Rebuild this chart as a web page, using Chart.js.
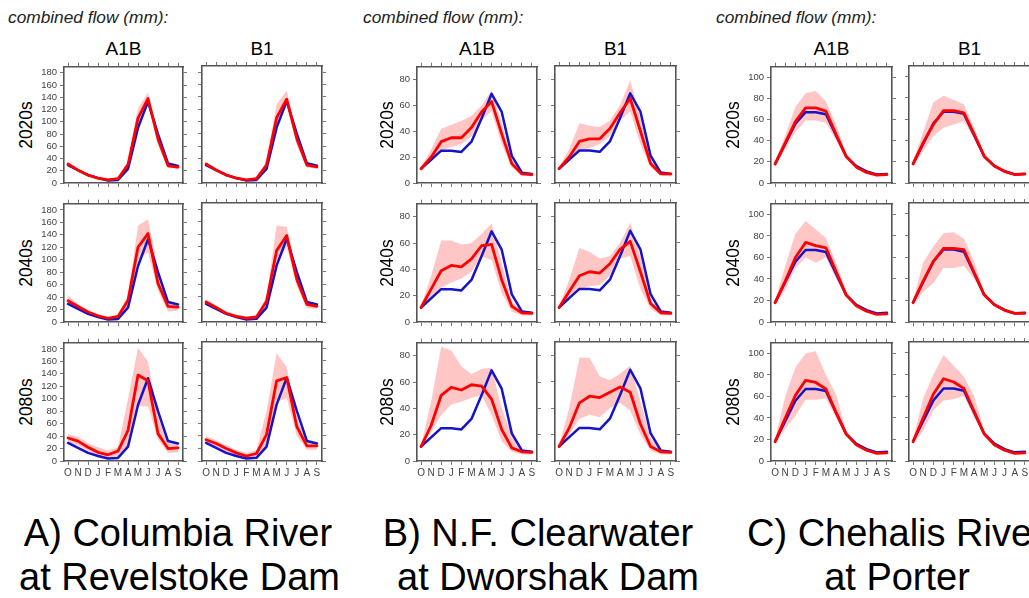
<!DOCTYPE html>
<html><head><meta charset="utf-8"><title>combined flow</title>
<script src="https://cdn.jsdelivr.net/npm/chart.js@4.4.1/dist/chart.umd.min.js"></script>
<style>
html,body{margin:0;padding:0;background:#fff}
body{position:relative;width:1029px;height:598px;overflow:hidden;font-family:'Liberation Sans',Arial,Helvetica,sans-serif}
.t{position:absolute;white-space:nowrap;line-height:1.15;color:#000}
.cf{font-size:17.3px;font-style:italic;color:#222;transform:translateY(-50%)}
.ct{font-size:19px;transform:translate(-50%,-50%)}
.rl{font-size:17.5px;transform:translate(-50%,-50%) rotate(-90deg)}
.big{font-size:38px;transform:translate(-50%,-50%)}
.bigl{font-size:38px;transform:translateY(-50%)}
canvas{position:absolute}
</style></head><body>
<script>
const MONTHS=['O','N','D','J','F','M','A','M','J','J','A','S'];
const PERIODS=['2020s','2040s','2080s'];
const SCENARIOS=['A1B','B1'];

// A) Columbia River at Revelstoke Dam
const cr_hist=[29,21,13,8,4,5,23,90,133,80,32,28];
const cr_a1b_20_mid=[31,21,13,8,5,7,30,106,138,72,28,26];
const cr_a1b_20_hi=[33,23,15,10,7,9,35,122,148,82,32,30];
const cr_a1b_20_lo=[29,19,11,6,3,5,25,92,128,62,25,23];
const cr_b1_20_mid=[31,21,13,8,5,7,29,106,136,72,29,26];
const cr_b1_20_hi=[34,23,15,10,7,9,35,128,150,82,33,30];
const cr_b1_20_lo=[28,19,11,6,3,5,24,92,126,62,25,23];
const cr_a1b_40_mid=[34,25,16,10,6,9,35,120,142,62,25,24];
const cr_a1b_40_hi=[43,29,19,12,8,11,42,155,165,85,32,29];
const cr_a1b_40_lo=[30,22,13,8,4,6,25,100,112,50,17,18];
const cr_b1_40_mid=[32,23,14,9,6,8,33,114,138,68,28,25];
const cr_b1_40_hi=[36,26,16,11,8,10,40,154,152,78,32,28];
const cr_b1_40_lo=[29,20,12,7,4,6,26,92,120,58,22,21];
const cr_a1b_80_mid=[37,32,22,14,10,16,49,138,129,44,20,21];
const cr_a1b_80_hi=[43,39,29,22,17,22,100,182,160,72,30,30];
const cr_a1b_80_lo=[30,25,16,9,5,7,20,88,88,35,13,14];
const cr_b1_80_mid=[34,28,20,13,8,12,42,128,133,55,24,24];
const cr_b1_80_hi=[40,33,25,18,13,17,80,172,150,68,30,29];
const cr_b1_80_lo=[28,23,15,9,5,7,20,95,100,40,18,18];

// B) N.F. Clearwater at Dworshak Dam
const nf_hist=[11,18,25,25,24,32,50,69,55,21,8,7];
const nf_a1b_20_mid=[11,20,32,35,35,43,55,63,38,15,7,6.5];
const nf_a1b_20_hi=[12,26,42,45,48,52,60,72,46,18,8,7];
const nf_a1b_20_lo=[10,17,25,28,30,36,48,56,30,12,6,5];
const nf_b1_20_mid=[11,20,32,34,34,42,54,65,40,15,7,7];
const nf_b1_20_hi=[12,26,46,44,43,48,60,79,50,18,8,7];
const nf_b1_20_lo=[10,17,25,27,30,36,48,55,30,12,6,5];
const nf_a1b_40_mid=[11,25,39,43,42,48,58,59,32,12,7,6.5];
const nf_a1b_40_hi=[12,35,62,62,59,60,67,75,45,16,8,7];
const nf_a1b_40_lo=[10,18,26,30,33,38,50,47,22,8,5,5];
const nf_b1_40_mid=[11,23,35,38,37,44,55,61,38,14,7,6.5];
const nf_b1_40_hi=[12,32,56,53,48,50,60,75,50,17,8,7];
const nf_b1_40_lo=[10,17,25,27,28,35,48,50,25,10,5,5];
const nf_a1b_80_mid=[11,27,50,56,54,58,57,47,24,10,7,6.5];
const nf_a1b_80_hi=[12,45,87,84,72,66,70,71,40,20,8,7];
const nf_a1b_80_lo=[10,22,35,43,45,48,50,35,15,7,5,5];
const nf_b1_80_mid=[11,25,44,49,48,52,56,52,28,11,7,6.5];
const nf_b1_80_hi=[12,40,78,78,64,61,66,72,45,18,8,7];
const nf_b1_80_lo=[10,20,32,35,33,40,44,38,20,8,5,5];

// C) Chehalis River at Porter
const ch_hist=[18,37,56,67,67,65,45,25,16,11,8,8.5];
const ch_a1b_20_mid=[18,38,58,71,71,68,46,25,15,10,7.5,8];
const ch_a1b_20_hi=[20,45,72,85,87,77,55,28,17,11,9,9];
const ch_a1b_20_lo=[15,32,48,59,59,57,40,23,13,9,7,7];
const ch_b1_20_mid=[18,38,55,68,68,66,46,25,16,11,8,8.5];
const ch_b1_20_hi=[20,48,76,82,78,74,52,28,17,12,9,9];
const ch_b1_20_lo=[15,30,44,52,55,58,42,23,14,9,7,7];
const ch_a1b_40_mid=[18,38,60,74,71,69,47,25,15,10,7,7.5];
const ch_a1b_40_hi=[20,52,82,94,86,78,55,28,17,11,8.5,9];
const ch_a1b_40_lo=[15,30,50,60,55,60,40,23,13,9,6.5,7];
const ch_b1_40_mid=[18,38,56,68,68,67,46,25,16,11,8,8];
const ch_b1_40_hi=[20,55,70,82,83,77,56,28,17,12,9,9];
const ch_b1_40_lo=[15,28,36,50,50,52,40,23,14,9,7,7];
const ch_a1b_80_mid=[18,40,61,75,73,67,45,25,15,10,7,7.5];
const ch_a1b_80_hi=[20,60,87,100,102,80,62,28,17,11,8.5,9];
const ch_a1b_80_lo=[15,30,42,57,57,58,40,23,13,9,6.5,7];
const ch_b1_80_mid=[18,40,62,76,73,67,46,25,15,10,7,7.5];
const ch_b1_80_hi=[20,58,80,98,88,78,60,28,17,11,8.5,9];
const ch_b1_80_lo=[15,28,47,56,57,60,40,23,13,9,6.5,7];

const TITLES=[['A) Columbia River','at Revelstoke Dam'],['B) N.F. Clearwater','at Dworshak Dam'],['C) Chehalis River','at Porter']];

// layout (px)
var LW=30,RW=8,TH=8,BH=24;
var ROWS=[[66,183],[203,322],[342,461]];
var GROUPS=[
  {hist:cr_hist,yMax:190,cols:[[64,183],[202,322]],flowX:8,rowX:26,
   runs:[[[cr_a1b_20_mid,cr_a1b_20_lo,cr_a1b_20_hi],[cr_b1_20_mid,cr_b1_20_lo,cr_b1_20_hi]],
         [[cr_a1b_40_mid,cr_a1b_40_lo,cr_a1b_40_hi],[cr_b1_40_mid,cr_b1_40_lo,cr_b1_40_hi]],
         [[cr_a1b_80_mid,cr_a1b_80_lo,cr_a1b_80_hi],[cr_b1_80_mid,cr_b1_80_lo,cr_b1_80_hi]]]},
  {hist:nf_hist,yMax:90,cols:[[417,537],[555,676]],flowX:363,rowX:387,
   runs:[[[nf_a1b_20_mid,nf_a1b_20_lo,nf_a1b_20_hi],[nf_b1_20_mid,nf_b1_20_lo,nf_b1_20_hi]],
         [[nf_a1b_40_mid,nf_a1b_40_lo,nf_a1b_40_hi],[nf_b1_40_mid,nf_b1_40_lo,nf_b1_40_hi]],
         [[nf_a1b_80_mid,nf_a1b_80_lo,nf_a1b_80_hi],[nf_b1_80_mid,nf_b1_80_lo,nf_b1_80_hi]]]},
  {hist:ch_hist,yMax:110,cols:[[771,892],[909,1030]],flowX:716,rowX:733,
   runs:[[[ch_a1b_20_mid,ch_a1b_20_lo,ch_a1b_20_hi],[ch_b1_20_mid,ch_b1_20_lo,ch_b1_20_hi]],
         [[ch_a1b_40_mid,ch_a1b_40_lo,ch_a1b_40_hi],[ch_b1_40_mid,ch_b1_40_lo,ch_b1_40_hi]],
         [[ch_a1b_80_mid,ch_a1b_80_lo,ch_a1b_80_hi],[ch_b1_80_mid,ch_b1_80_lo,ch_b1_80_hi]]]}
];

function txt(cls,s,x,y){
  var d=document.createElement('div');
  d.className='t '+cls;d.textContent=s;
  d.style.left=x+'px';d.style.top=y+'px';
  document.body.appendChild(d);
}

function fixSize(sz){return function(a){if(a.isHorizontal())a.height=sz;else a.width=sz;};}

function drawPanel(g,col,row){
  var fx=g.cols[col],fy=ROWS[row];
  var cv=document.createElement('canvas');
  cv.width=fx[1]-fx[0]+LW+RW;cv.height=fy[1]-fy[0]+TH+BH;
  cv.style.left=(fx[0]-LW)+'px';cv.style.top=(fy[0]-TH)+'px';
  document.body.appendChild(cv);
  var run=g.runs[row][col];
  var pts=function(a){return a.map(function(v,i){return{x:i,y:v};});};
  var line=function(a,c,w){return{data:pts(a),borderColor:c,borderWidth:w,pointRadius:0,fill:false,tension:0,borderJoinStyle:'round',borderCapStyle:'round'};};
  var frame={display:true,color:'#555',width:1.6};
  var marks={display:true,drawOnChartArea:false,tickLength:4,color:'#777',lineWidth:1};
  var lab={color:'#444',autoSkip:false,font:{family:"'Liberation Sans',Arial,sans-serif",size:9.5}};
  function xAxis(pos,show,sz){return{type:'linear',position:pos,min:-0.4,max:11.5,border:frame,grid:marks,afterFit:fixSize(sz),
    ticks:Object.assign({display:show,stepSize:1,includeBounds:false,maxRotation:0,padding:2,callback:function(v){return MONTHS[v];}},lab,{font:{family:"'Liberation Sans',Arial,sans-serif",size:10}})};}
  function yAxis(pos,show,sz){return{type:'linear',position:pos,min:0,max:g.yMax,border:frame,grid:marks,afterFit:fixSize(sz),
    ticks:Object.assign({display:show,stepSize:20,includeBounds:false,padding:3},lab)};}
  new Chart(cv,{type:'line',
    data:{datasets:[
      line(run[0],'#ff0000',2.8),
      line(g.hist,'#1414c8',2.5),
      {data:pts(run[2]),borderWidth:0,pointRadius:0,backgroundColor:'#ffc6c6',fill:'+1',tension:0},
      {data:pts(run[1]),borderWidth:0,pointRadius:0,fill:false,tension:0}
    ]},
    options:{responsive:false,animation:false,events:[],layout:{padding:0},
      plugins:{legend:{display:false},tooltip:{enabled:false}},
      scales:{x:xAxis('bottom',row===2,BH),xt:xAxis('top',false,TH),y:yAxis('left',col===0,LW),yr:yAxis('right',false,RW)}}
  });
}

GROUPS.forEach(function(g){
  txt('cf','combined flow (mm):',g.flowX,17.5);
  g.cols.forEach(function(c,ci){txt('ct',SCENARIOS[ci],(c[0]+c[1])/2,49);});
  ROWS.forEach(function(r,ri){
    txt('rl',PERIODS[ri],g.rowX,(r[0]+r[1])/2);
    g.cols.forEach(function(c,ci){drawPanel(g,ci,ri);});
  });
});

txt('big',TITLES[0][0],178,534);txt('big',TITLES[0][1],179.5,577.5);
txt('big',TITLES[1][0],538,534);txt('big',TITLES[1][1],548,577.5);
txt('bigl',TITLES[2][0],747,534);txt('big',TITLES[2][1],897,577.5);
</script>
</body></html>
